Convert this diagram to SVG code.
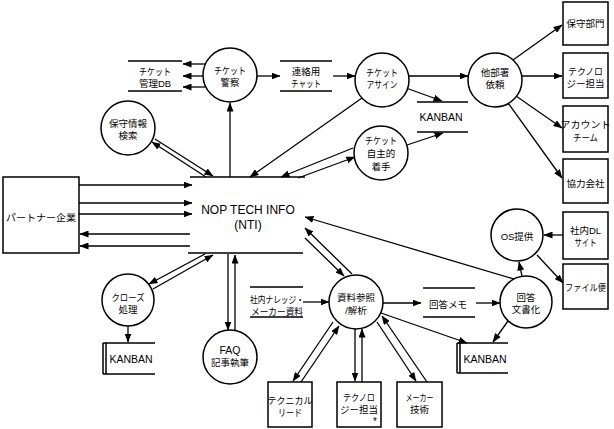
<svg xmlns="http://www.w3.org/2000/svg" width="614" height="429" viewBox="0 0 614 429">
<style>
text{font-family:"Liberation Sans","Noto Sans CJK JP",sans-serif;font-size:9.5px;fill:#000;text-anchor:middle;dominant-baseline:central}
.c{fill:#fff;stroke:#000;stroke-width:1.5}
.b{fill:#fff;stroke:#000;stroke-width:1.5}
.s{stroke:#000;stroke-width:1.5;fill:none}
.a{stroke:#000;stroke-width:1.3;fill:none;marker-end:url(#ah)}
.big{font-size:12px}
.kb{font-size:10.5px}
</style>
<defs>
<marker id="ah" markerUnits="userSpaceOnUse" markerWidth="9" markerHeight="7" refX="8.5" refY="3.5" orient="auto">
<path d="M0,0 L9,3.5 L0,7 z" fill="#000"/>
</marker>
</defs>
<rect width="614" height="429" fill="#fff"/>

<g id="connectors">
<path class="a" d="M205,64 L183,64"/>
<path class="a" d="M203,76 L183,76"/>
<path class="a" d="M205,87 L183,87"/>
<path class="a" d="M257,76 L280,76"/>
<path class="a" d="M333,76 L355,76"/>
<path class="a" d="M409,76 L468,76"/>
<path class="a" d="M513,60 L562,25"/>
<path class="a" d="M522,76 L562,76"/>
<path class="a" d="M516,96 L562,128"/>
<path class="a" d="M508,103 L562,178"/>
<path class="a" d="M406,88 L442,101"/>
<path class="a" d="M407,145 L443,133"/>
<path class="a" d="M362,98 L250,177"/>
<path class="a" d="M353,148 L281,177"/>
<path class="a" d="M298,178 L355,157"/>
<path class="a" d="M230,177 L230,103"/>
<path class="a" d="M155,139 L213,176"/>
<path class="a" d="M206,177 L152,142"/>
<path class="a" d="M79,185 L192,185"/>
<path class="a" d="M79,203 L192,203"/>
<path class="a" d="M79,214 L192,214"/>
<path class="a" d="M190,234 L80,234"/>
<path class="a" d="M190,246 L80,246"/>
<path class="a" d="M514,279 L305,217"/>
<path class="a" d="M352,274 L305,228"/>
<path class="a" d="M305,238 L344,276"/>
<path class="a" d="M205,254 L149,284"/>
<path class="a" d="M153,289 L213,255"/>
<path class="a" d="M228,254 L228,330"/>
<path class="a" d="M235,331 L235,255"/>
<path class="a" d="M128,326 L128,342"/>
<path class="a" d="M303,302 L329,302"/>
<path class="a" d="M383,303 L421,303"/>
<path class="a" d="M476,303 L500,303"/>
<path class="a" d="M381,313 L467,343"/>
<path class="a" d="M508,321 L493,342"/>
<path class="a" d="M522,276 L519,262"/>
<path class="a" d="M563,235 L544,235"/>
<path class="a" d="M537,255 L563,283"/>
<path class="a" d="M333,322 L293,381"/>
<path class="a" d="M301,382 L339,326"/>
<path class="a" d="M355,329 L355,381"/>
<path class="a" d="M362,382 L362,329"/>
<path class="a" d="M377,322 L416,381"/>
<path class="a" d="M427,382 L382,316"/>
</g>

<g id="nti">
<path class="s" d="M190,177 L305,177 M188,253 L303,253"/>
<text class="big" x="248" y="210">NOP TECH INFO</text>
<text class="big" x="248" y="225">(NTI)</text>
</g>
<g id="partner">
<rect class="b" x="3" y="177" width="76" height="76"/>
<text x="41" y="217" textLength="70" lengthAdjust="spacingAndGlyphs">パートナー企業</text>
</g>
<g id="ticket-db">
<path class="s" d="M128,61 L182,61 M128,91 L182,91"/>
<text x="155" y="71" textLength="32" lengthAdjust="spacingAndGlyphs">チケット</text>
<text x="155" y="83">管理DB</text>
</g>
<g id="ticket-keisatsu">
<circle class="c" cx="230" cy="75" r="27"/>
<text x="230" y="70" textLength="32" lengthAdjust="spacingAndGlyphs">チケット</text>
<text x="230" y="82">警察</text>
</g>
<g id="chat">
<path class="s" d="M280,61 L332,61 M280,91 L332,91"/>
<text x="306" y="71">連絡用</text>
<text x="306" y="83" textLength="30" lengthAdjust="spacingAndGlyphs">チャット</text>
</g>
<g id="ticket-assign">
<circle class="c" cx="382" cy="80" r="27"/>
<text x="382" y="72" textLength="32" lengthAdjust="spacingAndGlyphs">チケット</text>
<text x="382" y="84" textLength="31" lengthAdjust="spacingAndGlyphs">アサイン</text>
</g>
<g id="tabusho">
<circle class="c" cx="495" cy="80" r="27"/>
<text x="495" y="72">他部署</text>
<text x="495" y="84">依頼</text>
</g>
<g id="hoshu-bumon">
<rect class="b" x="563" y="2" width="45" height="43"/>
<text x="585.5" y="23">保守部門</text>
</g>
<g id="tech-right">
<rect class="b" x="563" y="53" width="45" height="45"/>
<text x="585.5" y="71" textLength="35" lengthAdjust="spacingAndGlyphs">テクノロ</text>
<text x="585.5" y="83">ジー担当</text>
</g>
<g id="account">
<rect class="b" x="563" y="106" width="45" height="46"/>
<text x="585.5" y="124" textLength="50" lengthAdjust="spacingAndGlyphs">アカウント</text>
<text x="585.5" y="137" textLength="25" lengthAdjust="spacingAndGlyphs">チーム</text>
</g>
<g id="kyoryoku">
<rect class="b" x="563" y="159" width="45" height="44"/>
<text x="585.5" y="183">協力会社</text>
</g>
<g id="kanban-top">
<path class="s" d="M417,102 L468,102 M417,132 L468,132"/>
<text class="kb" x="441" y="117">KANBAN</text>
</g>
<g id="hoshu-kensaku">
<circle class="c" cx="128" cy="128" r="27"/>
<text x="128" y="123">保守情報</text>
<text x="128" y="135">検索</text>
</g>
<g id="jishu">
<circle class="c" cx="381" cy="153" r="27"/>
<text x="381" y="140" textLength="32" lengthAdjust="spacingAndGlyphs">チケット</text>
<text x="381" y="153">自主的</text>
<text x="381" y="166">着手</text>
</g>
<g id="os">
<circle class="c" cx="517" cy="235" r="26"/>
<text x="517" y="236">OS提供</text>
</g>
<g id="shanai-dl">
<rect class="b" x="563" y="212" width="45" height="47"/>
<text x="585.5" y="230">社内DL</text>
<text x="585.5" y="242" textLength="22" lengthAdjust="spacingAndGlyphs">サイト</text>
</g>
<g id="file">
<rect class="b" x="563" y="264" width="45" height="45"/>
<text x="585.5" y="287" textLength="41" lengthAdjust="spacingAndGlyphs">ファイル便</text>
</g>
<g id="close">
<circle class="c" cx="128" cy="300" r="26"/>
<text x="128" y="297" textLength="33" lengthAdjust="spacingAndGlyphs">クローズ</text>
<text x="128" y="309">処理</text>
</g>
<g id="kanban-left">
<path class="s" d="M103,343 L155,343 M103,374 L155,374 M103,343 L103,374 M106,343 L106,374"/>
<text class="kb" x="131" y="359">KANBAN</text>
</g>
<g id="faq">
<circle class="c" cx="230" cy="357" r="27"/>
<text class="kb" x="230" y="350">FAQ</text>
<text x="230" y="362">記事執筆</text>
</g>
<g id="knowledge">
<path class="s" d="M250,287 L303,287 M250,317 L303,317"/>
<text x="277" y="299" textLength="54" lengthAdjust="spacingAndGlyphs">社内ナレッジ・</text>
<text x="277" y="311" textLength="52" lengthAdjust="spacingAndGlyphs">メーカー資料</text>
</g>
<g id="shiryo">
<circle class="c" cx="356" cy="302" r="27"/>
<text x="356" y="297">資料参照</text>
<text x="356" y="310">/解析</text>
</g>
<g id="memo">
<path class="s" d="M423,288 L475,288 M423,317 L475,317"/>
<text x="448" y="304">回答メモ</text>
</g>
<g id="kaito">
<circle class="c" cx="526" cy="302" r="26"/>
<text x="526" y="297">回答</text>
<text x="526" y="309">文書化</text>
</g>
<g id="kanban-right">
<path class="s" d="M457,343 L508,343 M457,373 L508,373 M457,343 L457,373 M460,343 L460,373"/>
<text class="kb" x="485" y="359">KANBAN</text>
</g>
<g id="technical-lead">
<rect class="b" x="268" y="382" width="44" height="45"/>
<text x="290" y="400" textLength="45" lengthAdjust="spacingAndGlyphs">テクニカル</text>
<text x="290" y="412" textLength="24" lengthAdjust="spacingAndGlyphs">リード</text>
</g>
<g id="technology">
<rect class="b" x="337" y="382" width="44" height="45"/>
<text x="359" y="397" textLength="32" lengthAdjust="spacingAndGlyphs">テクノロ</text>
<text x="359" y="409">ジー担当</text>
<text x="375" y="421" style="font-size:10px">*</text>
</g>
<g id="maker">
<rect class="b" x="397" y="382" width="45" height="45"/>
<text x="419.5" y="397" textLength="28" lengthAdjust="spacingAndGlyphs">メーカー</text>
<text x="419.5" y="409">技術</text>
</g>
</svg>
